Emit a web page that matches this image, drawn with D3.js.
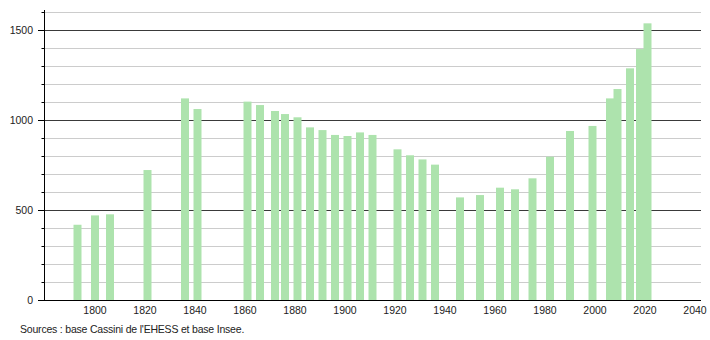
<!DOCTYPE html>
<html>
<head>
<meta charset="utf-8">
<script src="https://cdn.jsdelivr.net/npm/d3@7"></script>
<style>
  body { margin: 0; background: #fff; }
  text { font-family: "Liberation Sans", Arial, sans-serif; }
</style>
</head>
<body>
<div id="chart-area"></div>
<script>
// recensements
var years = [1793, 1800, 1806, 1821, 1836, 1841, 1861, 1866, 1872, 1876, 1881, 1886, 1891, 1896,
             1901, 1906, 1911, 1921, 1926, 1931, 1936, 1946, 1954, 1962, 1968, 1975, 1982, 1990,
             1999, 2006, 2009, 2014, 2018, 2021];
var population = [418, 470, 476, 722, 1120, 1061, 1102, 1083, 1050, 1033, 1015, 959, 944, 917,
                  911, 931, 917, 837, 804, 781, 752, 570, 583, 624, 615, 676, 796, 939,
                  967, 1120, 1172, 1287, 1394, 1537];
var xTicks = [1800, 1820, 1840, 1860, 1880, 1900, 1920, 1940, 1960, 1980, 2000, 2020, 2040];
var yTicks = [0, 500, 1000, 1500];
var source = "Sources : base Cassini de l'EHESS et base Insee.";

var width = 710;
var height = 340;

var svg = d3.select("#chart-area").append("svg")
    .attr("width", width)
    .attr("height", height);

var x = d3.scaleLinear()
    .domain([1780, 2042])
    .range([45, 700]);

var y = d3.scaleLinear()
    .domain([0, 1600])
    .range([300, 12]);

// grille
var grid = d3.range(100, 1700, 100);
svg.selectAll("line.grid")
    .data(grid)
    .enter()
    .append("line")
    .attr("class", "grid")
    .attr("x1", 45)
    .attr("x2", 701)
    .attr("y1", (d) => Math.round(y(d)) + 0.5)
    .attr("y2", (d) => Math.round(y(d)) + 0.5)
    .attr("stroke", (d) => d % 500 == 0 ? "#3a3a3a" : "#cccccc")
    .attr("stroke-width", 1);

// barres
svg.selectAll("rect")
    .data(years)
    .enter()
    .append("rect")
    .attr("x", (d) => x(d) - 4)
    .attr("y", (d, i) => y(population[i]))
    .attr("width", 8)
    .attr("height", (d, i) => y(0) - y(population[i]))
    .attr("fill", "#ade3ad");

// axe y
var leftAxis = d3.axisLeft(y)
    .tickValues(grid.concat([0]))
    .tickSize(3)
    .tickFormat("");
svg.append("g")
    .attr("transform", "translate(44.5,0)")
    .call(leftAxis)
    .call((g) => g.select(".domain").remove())
    .selectAll("line").attr("stroke", "#000");

svg.append("g")
    .selectAll("line")
    .data(yTicks)
    .enter()
    .append("line")
    .attr("x1", 38)
    .attr("x2", 45)
    .attr("y1", (d) => Math.round(y(d)) + 0.5)
    .attr("y2", (d) => Math.round(y(d)) + 0.5)
    .attr("stroke", "#000");

svg.append("line")
    .attr("x1", 44.5).attr("x2", 44.5)
    .attr("y1", 10).attr("y2", 300.5)
    .attr("stroke", "#000");

svg.selectAll("text.ylab")
    .data(yTicks)
    .enter()
    .append("text")
    .attr("class", "ylab")
    .attr("x", 33)
    .attr("y", (d) => y(d) + 4)
    .attr("text-anchor", "end")
    .attr("font-size", "10.5px")
    .attr("fill", "#222")
    .text((d) => d);

// axe x
svg.append("line")
    .attr("x1", 44).attr("x2", 701)
    .attr("y1", 300.5).attr("y2", 300.5)
    .attr("stroke", "#000");

svg.selectAll("text.xlab")
    .data(xTicks)
    .enter()
    .append("text")
    .attr("class", "xlab")
    .attr("x", (d) => x(d))
    .attr("y", 314)
    .attr("text-anchor", "middle")
    .attr("font-size", "10.5px")
    .attr("fill", "#222")
    .text((d) => d);

svg.append("text")
    .attr("x", 20)
    .attr("y", 333)
    .attr("font-size", "10.5px")
    .attr("letter-spacing", "-0.2px")
    .attr("fill", "#222")
    .text(source);
</script>
</body>
</html>
